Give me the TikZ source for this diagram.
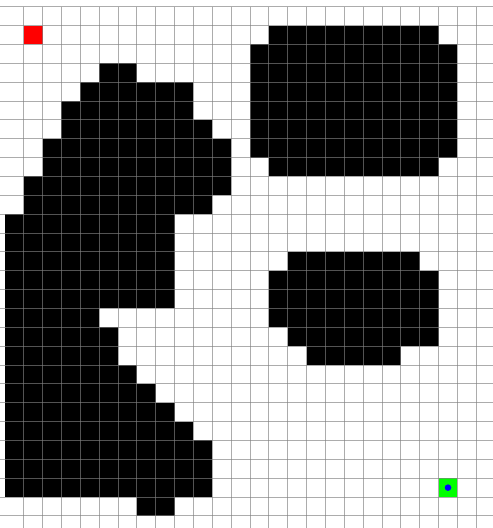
\documentclass[tikz,border=0pt]{standalone}
\begin{document}
\begin{tikzpicture}
\useasboundingbox[fill=white] (0,0) rectangle (493pt,-528pt);
\tikzset{
  obstacle/.style={fill=black},
  gridline/.style={draw=gray, opacity=0.65, line width=0.9pt},
  startcell/.style={fill=red},
  goalcell/.style={fill=green},
  robot/.style={fill=blue}
}
\begin{scope}[shift={(4.8pt,-6.7pt)}, x=18.86pt, y=-18.86pt]
  % obstacles: col-from / col-to / row-from / row-to
  \foreach \ca/\cb/\ra/\rb in {
    14/22/1/1, 13/23/2/7, 14/22/8/8,
    5/6/3/3, 4/9/4/4, 3/9/5/5, 3/10/6/6, 2/11/7/8, 1/11/9/9, 1/10/10/10,
    0/8/11/15, 0/4/16/16, 0/5/17/18, 0/6/19/19, 0/7/20/20, 0/8/21/21,
    0/9/22/22, 0/10/23/25, 7/8/26/26,
    15/21/13/13, 14/22/14/16, 15/22/17/17, 16/20/18/18}
    \fill[obstacle] (\ca,\ra) rectangle ({\cb+1},{\rb+1});
  \fill[startcell] (1,1) rectangle (2,2);
  \fill[goalcell] (23,25) rectangle (24,26);
  \fill[robot] (23.5,25.5) circle (3.3pt);
  % grid
  \foreach \k in {0,...,27}
    \draw[gridline] (-0.26,\k) -- (25.9,\k);
  \foreach \k in {1,...,25}
    \draw[gridline] (\k,0) -- (\k,27.7);
\end{scope}
\end{tikzpicture}
\end{document}
